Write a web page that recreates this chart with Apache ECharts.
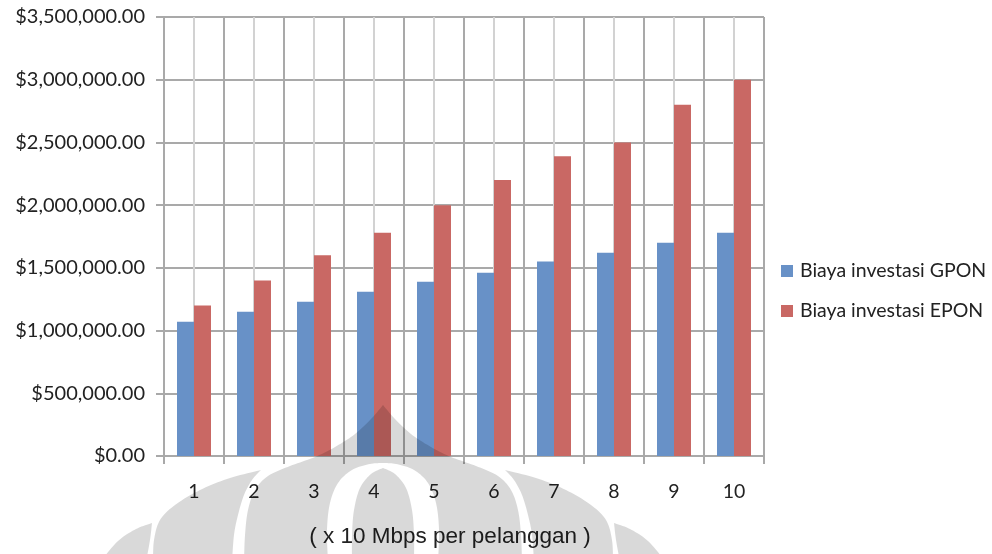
<!DOCTYPE html>
<html>
<head>
<meta charset="utf-8">
<script src="https://cdn.jsdelivr.net/npm/echarts@6/dist/echarts.min.js"></script>
<style>
  html, body { margin: 0; padding: 0; background: #ffffff; }
  #chart { width: 992px; height: 554px; }
</style>
</head>
<body>
<div id="chart"></div>
<script>
// Investment cost per option, by bandwidth step (x 10 Mbps per subscriber)
const categories = ['1', '2', '3', '4', '5', '6', '7', '8', '9', '10'];
const gponCost = [1070000, 1150000, 1230000, 1310000, 1390000, 1460000, 1550000, 1620000, 1700000, 1780000];
const eponCost = [1200000, 1400000, 1600000, 1780000, 2000000, 2200000, 2390000, 2500000, 2800000, 3000000];
const seriesNames = ['Biaya investasi GPON', 'Biaya investasi EPON'];
const xAxisTitle = '( x 10 Mbps per pelanggan )';
const yMin = 0;
const yMax = 3500000;
const yStep = 500000;

// "$1,234,567.00"
function money(v) {
  const whole = Math.round(v).toString().replace(/\B(?=(\d{3})+(?!\d))/g, ',');
  return '$' + whole + '.00';
}

// Half-category slots, used only to draw the light centre gridlines
const halfSlots = categories.flatMap(c => [c + 'a', c + 'b']);

// --- faint seal drawn across the lower part of the page ---
function spline(pts, n) {
  n = n || 10;
  const out = [];
  for (let i = 0; i < pts.length - 1; i++) {
    const p0 = pts[Math.max(i - 1, 0)], p1 = pts[i], p2 = pts[i + 1], p3 = pts[Math.min(i + 2, pts.length - 1)];
    for (let s = 0; s < n; s++) {
      const t = s / n, t2 = t * t, t3 = t2 * t;
      const f = (a, b, c, d) => 0.5 * ((2 * b) + (-a + c) * t + (2 * a - 5 * b + 4 * c - d) * t2 + (-a + 3 * b - 3 * c + d) * t3);
      out.push([f(p0[0], p1[0], p2[0], p3[0]), f(p0[1], p1[1], p2[1], p3[1])]);
    }
  }
  out.push(pts[pts.length - 1]);
  return out;
}
const sealCx = 383;
const mirror = pts => pts.map(p => [2 * sealCx - p[0], p[1]]);
const rev = pts => pts.slice().reverse();

const domeEdge = [[383, 405], [371, 419], [355, 434], [335, 447], [315, 457], [290, 466], [268, 476], [255, 490], [248, 510], [245, 535], [244, 562]];
const archEdge = [[383, 463], [370, 464], [352, 470], [338, 483], [330, 503], [327, 530], [328, 562]];
const spindleEdge = [[383, 468], [371, 474], [360, 488], [354, 510], [352, 535], [352, 562]];
const wingInner = [[261, 470], [252, 480], [244, 495], [238, 515], [234, 535], [232, 562]];
const wingOuter = [[261, 470], [230, 478], [200, 490], [175, 505], [160, 520], [154, 540], [153, 562]];
const tailInner = [[152, 523], [150, 540], [146, 562]];
const tailOuter = [[152, 523], [136, 529], [118, 541], [100, 562]];

function domeShape() {
  const L = spline(domeEdge), R = spline(mirror(domeEdge));
  const AL = spline(archEdge), AR = spline(mirror(archEdge));
  return rev(L).concat(R, rev(AR), AL);
}
function lensShape(a, b) {
  return rev(spline(a)).concat(spline(b));
}
const sealPieces = [
  domeShape(),
  lensShape(spindleEdge, mirror(spindleEdge)),
  lensShape(wingOuter, wingInner),
  lensShape(mirror(wingInner), mirror(wingOuter)),
  lensShape(tailOuter, tailInner),
  lensShape(mirror(tailInner), mirror(tailOuter))
];

const labelFont = 'Lato';
const textColor = '#222222';
const gridDark = '#A9A9A9';
const gridLight = '#D2D2D2';

const chart = echarts.init(document.getElementById('chart'), null, { renderer: 'canvas' });

chart.setOption({
  backgroundColor: '#ffffff',
  animation: false,
  grid: { left: 164, right: 228, top: 17, bottom: 98, containLabel: false },
  legend: {
    orient: 'vertical',
    left: 776,
    top: 256,
    icon: 'rect',
    itemWidth: 12,
    itemHeight: 12,
    itemGap: 20,
    data: seriesNames,
    textStyle: { fontFamily: labelFont, fontSize: 19.5, color: textColor, padding: [0, 0, 0, 2] }
  },
  xAxis: [
    {
      type: 'category',
      data: categories,
      boundaryGap: true,
      z: 1,
      axisLine: { lineStyle: { color: gridDark, width: 2 } },
      axisTick: { show: true, length: 8, lineStyle: { color: gridDark, width: 2 } },
      axisLabel: { margin: 26, fontFamily: labelFont, fontSize: 19.5, color: textColor },
      splitLine: { show: true, lineStyle: { color: gridDark, width: 2 } },
      name: xAxisTitle,
      nameLocation: 'middle',
      nameGap: 69,
      nameTextStyle: { fontFamily: 'Liberation Sans', fontSize: 22.5, color: textColor, padding: [0, 28, 0, 0] }
    },
    {
      type: 'category',
      data: halfSlots,
      boundaryGap: true,
      position: 'bottom',
      z: 0,
      axisLine: { show: false },
      axisTick: { show: false },
      axisLabel: { show: false },
      splitLine: { show: true, lineStyle: { color: gridLight, width: 2 } }
    }
  ],
  yAxis: {
    type: 'value',
    min: yMin,
    max: yMax,
    interval: yStep,
    axisLine: { show: true, lineStyle: { color: gridDark, width: 2 } },
    axisTick: { show: true, length: 8, lineStyle: { color: gridDark, width: 2 } },
    axisLabel: { margin: 19, formatter: money, fontFamily: labelFont, fontSize: 20, color: textColor },
    splitLine: { show: true, lineStyle: { color: gridDark, width: 2 } }
  },
  series: [
    {
      name: seriesNames[0],
      type: 'bar',
      data: gponCost,
      barWidth: 17,
      barGap: '0%',
      itemStyle: { color: '#6891C7' }
    },
    {
      name: seriesNames[1],
      type: 'bar',
      data: eponCost,
      barWidth: 17,
      barGap: '0%',
      itemStyle: { color: '#C96864' }
    }
  ],
  graphic: {
    elements: sealPieces.map(pts => ({
      type: 'polygon',
      silent: true,
      z: 100,
      shape: { points: pts },
      style: { fill: 'rgba(0,0,0,0.15)' }
    }))
  }
});
</script>
</body>
</html>
